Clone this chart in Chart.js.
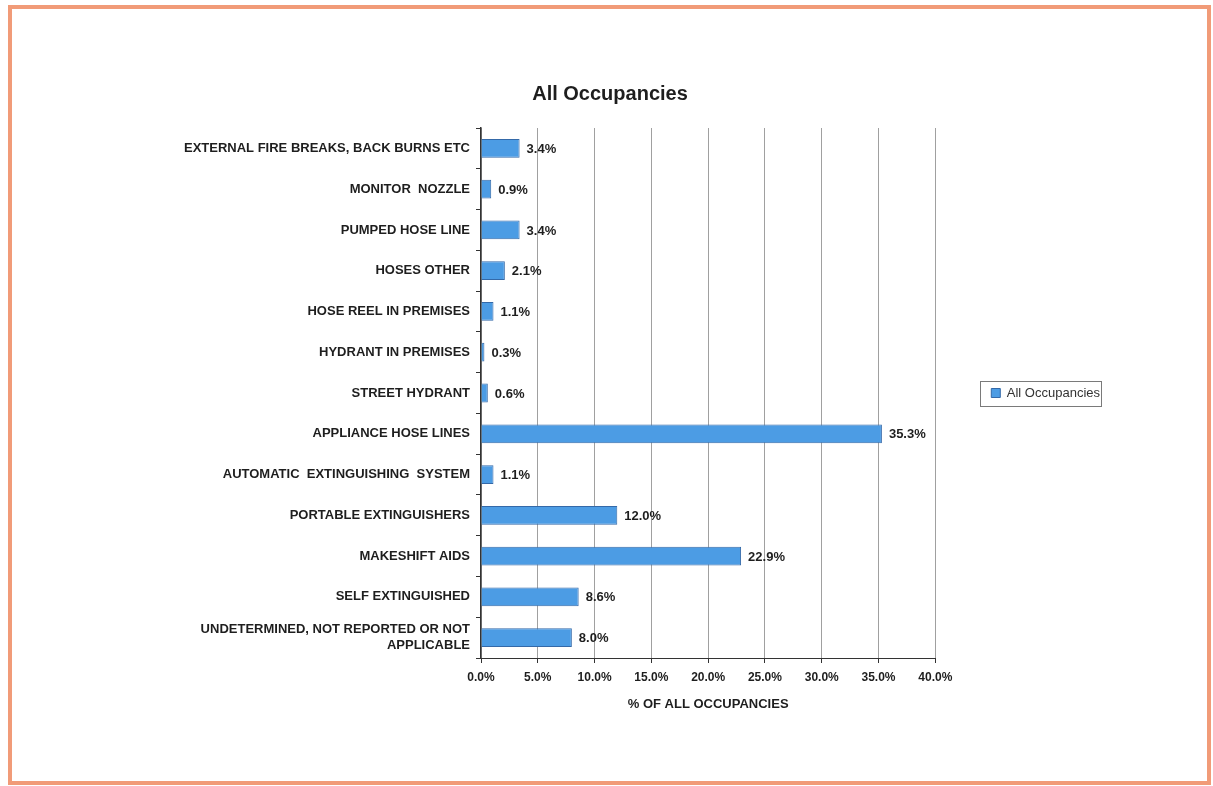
<!DOCTYPE html>
<html>
<head>
<meta charset="utf-8">
<title>All Occupancies</title>
<script src="https://cdn.jsdelivr.net/npm/chart.js@4/dist/chart.umd.min.js"></script>
<style>
  html, body { margin: 0; padding: 0; background: #ffffff; }
  #wrap { position: relative; width: 1213px; height: 786px; overflow: hidden; background: #ffffff; }
  #chart { position: absolute; left: 0; top: 0; }
  #frame { position: absolute; left: 8px; top: 5px; width: 1195px; height: 772px;
           border: 4px solid #f19b78; pointer-events: none; }
</style>
</head>
<body>
<div id="wrap">
  <canvas id="chart" width="1213" height="786"></canvas>
  <div id="frame"></div>
</div>
<script>
// Method used, listed top to bottom
const categories = [
  'EXTERNAL FIRE BREAKS, BACK BURNS ETC',
  'MONITOR  NOZZLE',
  'PUMPED HOSE LINE',
  'HOSES OTHER',
  'HOSE REEL IN PREMISES',
  'HYDRANT IN PREMISES',
  'STREET HYDRANT',
  'APPLIANCE HOSE LINES',
  'AUTOMATIC  EXTINGUISHING  SYSTEM',
  'PORTABLE EXTINGUISHERS',
  'MAKESHIFT AIDS',
  'SELF EXTINGUISHED',
  ['UNDETERMINED, NOT REPORTED OR NOT', 'APPLICABLE']
];

// Share of all occupancies, in percent
const percentages = [3.4, 0.9, 3.4, 2.1, 1.1, 0.3, 0.6, 35.3, 1.1, 12.0, 22.9, 8.6, 8.0];

// Percentage axis ticks
const xTickValues = [0, 5, 10, 15, 20, 25, 30, 35, 40];
const xTickLabels = ['0.0%', '5.0%', '10.0%', '15.0%', '20.0%', '25.0%', '30.0%', '35.0%', '40.0%'];

const seriesName = 'All Occupancies';
const axisTitle = '% OF ALL OCCUPANCIES';

const SANS = '"Liberation Sans", Arial, sans-serif';
const BAR_FILL = '#4c9ce4';
const BAR_EDGE = '#3469a8';
const INK = '#1e1e1e';

// Value text printed to the right of each bar
const valueLabels = {
  id: 'valueLabels',
  afterDatasetsDraw(chart) {
    const ctx = chart.ctx;
    const meta = chart.getDatasetMeta(0);
    ctx.save();
    ctx.font = 'bold 13px ' + SANS;
    ctx.fillStyle = INK;
    ctx.textAlign = 'left';
    ctx.textBaseline = 'middle';
    meta.data.forEach((bar, i) => {
      ctx.fillText(percentages[i].toFixed(1) + '%', bar.x + 7, bar.y + 1);
    });
    ctx.restore();
  }
};

// Thin frame around the legend entry
const legendFrame = {
  id: 'legendFrame',
  afterDraw(chart) {
    const boxes = chart.legend && chart.legend.legendHitBoxes;
    if (!boxes || !boxes.length) return;
    const h = boxes[0];
    const ctx = chart.ctx;
    ctx.save();
    ctx.strokeStyle = '#7a7a7a';
    ctx.lineWidth = 1;
    ctx.strokeRect(Math.round(h.left - 11) + 0.5, Math.round(h.top - 6) + 0.5,
                   Math.round(h.width + 12), Math.round(h.height + 12));
    ctx.restore();
  }
};

new Chart(document.getElementById('chart'), {
  type: 'bar',
  data: {
    labels: categories,
    datasets: [{
      label: seriesName,
      data: percentages,
      backgroundColor: BAR_FILL,
      borderColor: BAR_EDGE,
      borderWidth: 1,
      categoryPercentage: 1.0,
      barPercentage: 0.46
    }]
  },
  options: {
    indexAxis: 'y',
    responsive: false,
    animation: false,
    devicePixelRatio: 1,
    layout: { padding: { top: 10, left: 110, right: 103, bottom: 74 } },
    plugins: {
      title: {
        display: true,
        text: seriesName,
        color: INK,
        font: { family: SANS, size: 20, weight: 'bold', lineHeight: 1.2 },
        padding: { top: 72, bottom: 22 }
      },
      legend: {
        display: true,
        position: 'right',
        fullSize: false,
        labels: {
          boxWidth: 9,
          boxHeight: 9,
          padding: 56,
          color: '#333333',
          font: { family: SANS, size: 13 }
        }
      },
      tooltip: { enabled: false }
    },
    scales: {
      x: {
        type: 'linear',
        min: xTickValues[0],
        max: xTickValues[xTickValues.length - 1],
        afterBuildTicks(scale) {
          scale.ticks = xTickValues.map(v => ({ value: v }));
        },
        ticks: {
          color: INK,
          padding: 7,
          font: { family: SANS, size: 12, weight: 'bold' },
          callback: (v) => xTickLabels[xTickValues.indexOf(v)]
        },
        grid: {
          color: '#a0a0a0',
          lineWidth: 1,
          drawTicks: true,
          tickLength: 5,
          tickColor: '#333333'
        },
        border: { display: true, color: '#333333', width: 1 },
        title: {
          display: true,
          text: axisTitle,
          color: INK,
          font: { family: SANS, size: 13, weight: 'bold', lineHeight: 1.2 },
          padding: { top: 5, bottom: 0 }
        }
      },
      y: {
        type: 'category',
        afterFit(scale) { scale.width = 371; },
        ticks: {
          color: INK,
          padding: 6,
          autoSkip: false,
          font: { family: SANS, size: 13, weight: 'bold', lineHeight: 1.2 }
        },
        grid: {
          offset: true,
          drawOnChartArea: false,
          drawTicks: true,
          tickLength: 5,
          tickColor: '#333333'
        },
        border: { display: true, color: '#333333', width: 1.5 }
      }
    }
  },
  plugins: [valueLabels, legendFrame]
});
</script>
</body>
</html>
